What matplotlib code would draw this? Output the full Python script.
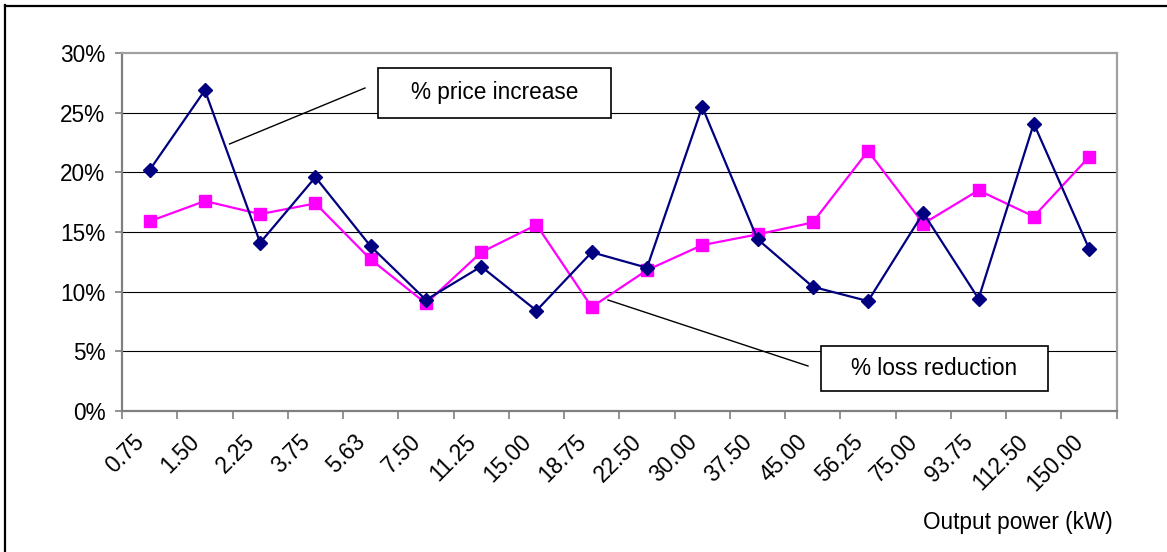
import matplotlib
matplotlib.use("Agg")
import matplotlib.pyplot as plt
from matplotlib.patches import Rectangle
from matplotlib.lines import Line2D
from matplotlib.ticker import FixedLocator, FuncFormatter
from matplotlib.transforms import ScaledTranslation

plt.rcParams['font.family'] = ['Liberation Sans', 'DejaVu Sans']

# Output power categories (kW)
power_labels = ["0.75", "1.50", "2.25", "3.75", "5.63", "7.50", "11.25", "15.00",
                "18.75", "22.50", "30.00", "37.50", "45.00", "56.25", "75.00",
                "93.75", "112.50", "150.00"]

# Percentage price increase per motor size
price_increase = [20.2, 26.9, 14.1, 19.6, 13.8, 9.3, 12.1, 8.4, 13.3, 12.0,
                  25.5, 14.4, 10.4, 9.2, 16.6, 9.4, 24.1, 13.6]

# Percentage loss reduction per motor size
loss_reduction = [15.9, 17.6, 16.5, 17.4, 12.7, 9.0, 13.3, 15.6, 8.7, 11.8,
                  13.9, 14.8, 15.8, 21.8, 15.7, 18.5, 16.3, 21.3]

y_ticks = [0, 5, 10, 15, 20, 25, 30]

FS = 16.3
W, H = 1167, 552
fig = plt.figure(figsize=(W / 100, H / 100), dpi=100)
fig.patch.set_facecolor("white")


def px(x, y):
    """Pixel position (from top-left) to figure fraction."""
    return x / W, 1 - y / H


ax_left, ax_top = px(122, 53.3)
ax_right, ax_bottom = px(1116.7, 410.7)
ax = fig.add_axes([ax_left, ax_bottom, ax_right - ax_left, ax_top - ax_bottom])

idx = list(range(len(power_labels)))

ax.plot(idx, loss_reduction, color="#FF00FF", lw=1.6, marker="s",
        markersize=9, markerfacecolor="#FF00FF", markeredgecolor="#FF00FF",
        zorder=3, clip_on=False)
ax.plot(idx, price_increase, color="#000080", lw=1.6, marker="D",
        markersize=7.2, markerfacecolor="#000080", markeredgecolor="#000080",
        zorder=4, clip_on=False)

ax.set_xlim(-0.5, len(power_labels) - 0.5)
ax.set_ylim(0, 30)

# Gridlines at each major y tick
for v in y_ticks[1:-1]:
    ax.axhline(v, color="black", lw=0.8, zorder=1)

ax.yaxis.set_major_locator(FixedLocator(y_ticks))
ax.yaxis.set_major_formatter(FuncFormatter(lambda v, p: f"{v:.0f}%"))
ax.tick_params(axis="y", direction="out", length=5, width=1.2, color="#808080",
               pad=7, labelsize=FS)

ax.set_xticks(idx)
ax.set_xticklabels(power_labels, rotation=45, ha="right", va="center",
                   rotation_mode="anchor", fontsize=FS)
ax.tick_params(axis="x", which="major", length=0, pad=20)
shift = ScaledTranslation(-9 / 100, 0, fig.dpi_scale_trans)
for lab in ax.get_xticklabels():
    lab.set_transform(lab.get_transform() + shift)
ax.set_xticks([i - 0.5 for i in range(len(power_labels) + 1)], minor=True)
ax.tick_params(axis="x", which="minor", direction="out", length=6, width=1.2,
               color="#808080")

for side in ("left", "bottom"):
    ax.spines[side].set_color("#808080")
    ax.spines[side].set_linewidth(1.6)
for side in ("top", "right"):
    ax.spines[side].set_color("#A0A0A0")
    ax.spines[side].set_linewidth(1.6)

# Axis title
fig.text(*px(1113, 522), "Output power (kW)", ha="right", va="center",
         fontsize=FS)


def callout(x0, y0, x1, y1, text, line_from, line_to):
    fx0, fy1 = px(x0, y1)
    fx1, fy0 = px(x1, y0)
    fig.add_artist(Rectangle((fx0, fy1), fx1 - fx0, fy0 - fy1,
                             transform=fig.transFigure, facecolor="white",
                             edgecolor="black", lw=1.2, zorder=6))
    fig.text(*px((x0 + x1) / 2, (y0 + y1) / 2), text, ha="center",
             va="center", fontsize=FS, zorder=7)
    (lx0, ly0), (lx1, ly1) = px(*line_from), px(*line_to)
    fig.add_artist(Line2D([lx0, lx1], [ly0, ly1], transform=fig.transFigure,
                          color="black", lw=1.0, zorder=6))


callout(378, 68, 611, 118, "% price increase", (229.5, 144), (365, 88))
callout(821, 346, 1048, 391, "% loss reduction", (608, 300), (808, 366))

# Chart frame
fig.add_artist(Line2D([4.5 / W, 4.5 / W], [0, 1 - 5 / H],
                      transform=fig.transFigure, color="black", lw=1.6))
fig.add_artist(Line2D([4.5 / W, 1], [1 - 5.5 / H, 1 - 5.5 / H],
                      transform=fig.transFigure, color="black", lw=1.6))

fig.savefig("out.png", dpi=100, facecolor="white")
